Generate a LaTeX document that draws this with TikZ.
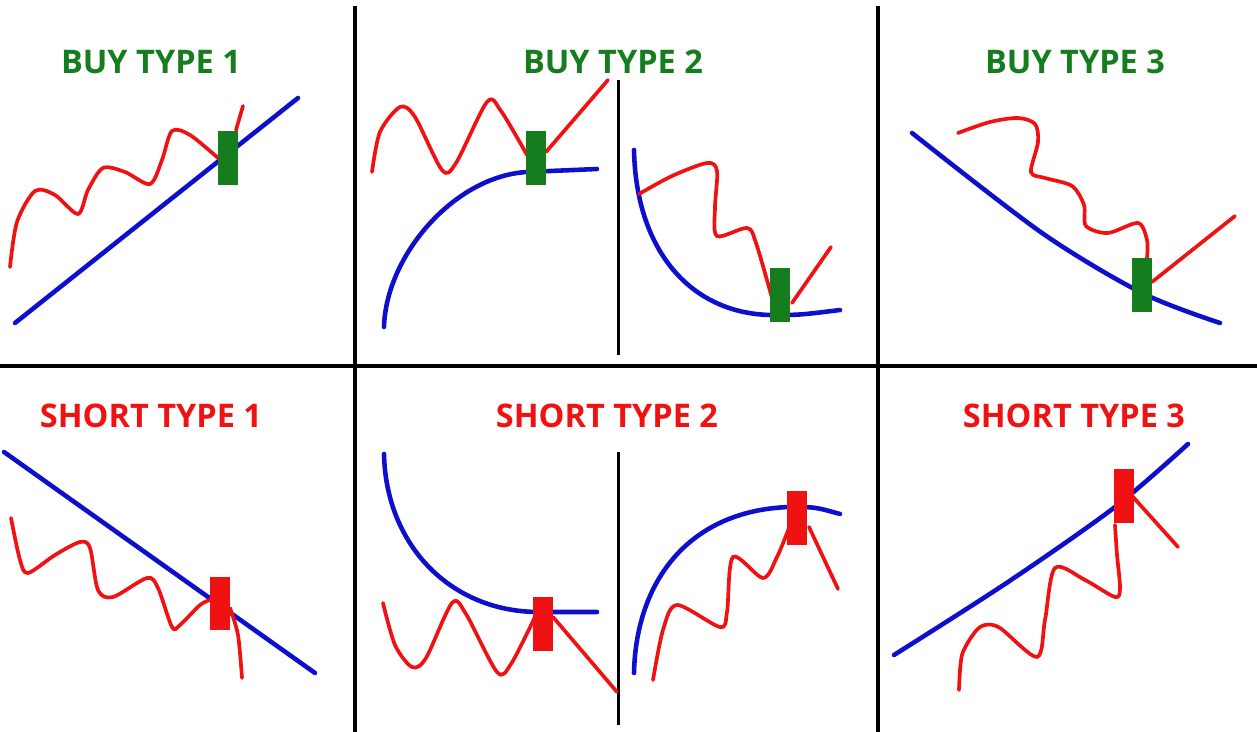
\documentclass[tikz,border=0pt]{standalone}
\usepackage{fontspec}
\setmainfont{Open Sans}
\definecolor{sigred}{RGB}{240,18,18}
\definecolor{siggreen}{RGB}{22,125,30}
\definecolor{sigblue}{RGB}{14,14,205}
\usetikzlibrary{positioning}

\begin{document}
\begin{tikzpicture}[x=0.02cm,y=-0.02cm,
    buytitle/.style={font=\fontsize{18.5}{20}\selectfont\bfseries,text=siggreen},
    shorttitle/.style={font=\fontsize{18.5}{20}\selectfont\bfseries,text=sigred},
    greencandle/.style={fill=siggreen,minimum width=0.4cm,minimum height=1.08cm,inner sep=0pt},
    redcandle/.style={fill=sigred,minimum width=0.4cm,minimum height=1.08cm,inner sep=0pt},
    trendline/.style={line width=2.6pt,sigblue,line cap=round},
    priceline/.style={line width=2.1pt,sigred,line cap=round}]
  \useasboundingbox (0,0) rectangle (1257,732);
  % Grid
  \draw[line width=1.9pt] (355,6) -- (355,732);
  \draw[line width=1.9pt] (878,6) -- (878,732);
  \draw[line width=1.9pt] (0,366) -- (1257,366);
  \draw[line width=1.7pt] (618,80) -- (618,355);
  \draw[line width=1.7pt] (618,452) -- (618,725);
  % Titles
  \node[buytitle]   (b1) at (151,62)  {BUY TYPE 1};
  \node[buytitle]   (b2) at (613,62)  {BUY TYPE 2};
  \node[buytitle]   (b3) at (1075,62) {BUY TYPE 3};
  \node[shorttitle] (s1) at (151,416) {SHORT TYPE 1};
  \node[shorttitle] (s2) at (607,416) {SHORT TYPE 2};
  \node[shorttitle] (s3) at (1074,416) {SHORT TYPE 3};
  % Buy type 1
  \draw[trendline] (15,323) -- (298,98);
  \draw[priceline] plot[smooth] coordinates {(10,267) (17,222) (35,191) (55,195)
    (78,214) (88,190) (103,168) (125,172) (150,184) (162,160) (172,131) (190,135) (218,158)};
  \draw[priceline] (236,130) -- (243,106);
  \node[greencandle] (c1) at (227.5,158) {};
  % Buy type 2
  \draw[trendline] (384,327) .. controls (386,255) and (455,176) .. (527,172) -- (597,169);
  \draw[priceline] plot[smooth] coordinates {(372,172) (380,132) (400,107) (415,117)
    (442,170) (456,163) (487,102) (501,111) (527,155)};
  \draw[priceline] (546,152) -- (608,80);
  \node[greencandle] (c2) at (536,158) {};
  \draw[trendline] (634,150) .. controls (636,250) and (690,313) .. (770,315)
    .. controls (800,315) .. (840,310);
  \draw[priceline] plot[smooth] coordinates {(639,194) (672,176) (707,163) (717,171)
    (715,207) (717,236) (747,228) (756,243) (772,298)};
  \draw[priceline] (792,303) -- (831,247);
  \node[greencandle] (c3) at (780,295) {};
  % Buy type 3
  \draw[trendline] plot[smooth] coordinates {(912,133) (1042,233) (1142,293) (1220,323)};
  \draw[priceline] plot[smooth] coordinates {(958,133) (990,122) (1018,118) (1035,124)
    (1038,142) (1031,172) (1045,178) (1072,186) (1084,205) (1086,226) (1108,233)
    (1138,223) (1147,240) (1147,258)};
  \draw[priceline] (1152,282) -- (1235,216);
  \node[greencandle] (c4) at (1142,285) {};
  % Short type 1
  \draw[trendline] (4,452) -- (315,673);
  \draw[priceline] plot[smooth] coordinates {(11,518) (20,560) (28,573) (55,555)
    (80,542) (90,548) (98,590) (113,597) (147,578) (158,588) (172,627) (180,625)
    (200,605) (210,600)};
  \draw[priceline] plot[smooth] coordinates {(230,608) (238,635) (242,678)};
  \node[redcandle] (c5) at (220,603.5) {};
  % Short type 2
  \draw[trendline] (384,454) .. controls (386,545) and (450,611) .. (537,612) -- (597,612);
  \draw[priceline] plot[smooth] coordinates {(383,603) (395,645) (412,667) (426,658)
    (452,603) (466,614) (497,672) (511,664) (535,617)};
  \draw[priceline] (553,617) -- (617,692);
  \node[redcandle] (c6) at (543,624) {};
  \draw[trendline] (634,673) .. controls (636,580) and (690,510) .. (790,507)
    .. controls (815,507) .. (840,514);
  \draw[priceline] plot[smooth] coordinates {(653,680) (663,630) (677,605) (720,627)
    (727,612) (733,557) (763,578) (777,557) (789,528)};
  \draw[priceline] (809,527) -- (838,589);
  \node[redcandle] (c7) at (797,518) {};
  % Short type 3
  \draw[trendline] plot[smooth] coordinates {(894,655) (1008,582) (1115,507) (1188,444)};
  \draw[priceline] plot[smooth] coordinates {(959,690) (962,655) (975,632) (985,625)
    (1000,628) (1037,657) (1045,620) (1055,568) (1085,580) (1115,597) (1120,588)
    (1117,555) (1115,525)};
  \draw[priceline] (1133,497) -- (1178,547);
  \node[redcandle] (c8) at (1124,496) {};
\end{tikzpicture}
\end{document}
